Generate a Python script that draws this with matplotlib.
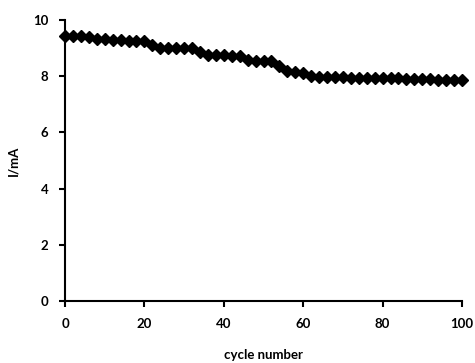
import numpy as np
import matplotlib.pyplot as plt

plt.rcParams['font.family'] = ['Lato', 'DejaVu Sans']

cycles = np.arange(0, 101, 2)
current = [9.43, 9.42, 9.42, 9.41, 9.33, 9.31, 9.3, 9.28, 9.27, 9.26,
           9.25, 9.12, 9.02, 9.02, 9.02, 9.01, 9.01, 8.85, 8.77, 8.75,
           8.74, 8.73, 8.72, 8.56, 8.54, 8.54, 8.53, 8.35, 8.17, 8.15,
           8.12, 7.99, 7.98, 7.97, 7.96, 7.96, 7.95, 7.95, 7.94, 7.93,
           7.93, 7.92, 7.92, 7.91, 7.9, 7.9, 7.89, 7.88, 7.87, 7.86, 7.85]

fig = plt.figure(figsize=(4.75, 3.63), dpi=100)
ax = fig.add_axes([65 / 475, 1 - 301 / 363, (462 - 65) / 475, (301 - 20) / 363])

ax.plot(cycles, current, color='black', marker='D', markersize=6.5, linewidth=1.5,
        clip_on=False)

ax.set_xlim(0, 100)
ax.set_ylim(0, 10)
ax.set_xticks(range(0, 101, 20))
ax.set_yticks(range(0, 11, 2))
for s in ['top', 'right']:
    ax.spines[s].set_visible(False)
for s in ['left', 'bottom']:
    ax.spines[s].set_linewidth(1.5)
ax.tick_params(direction='out', length=4, width=1.5, labelsize=9.5, pad=8)
for lbl in ax.get_xticklabels() + ax.get_yticklabels():
    lbl.set_fontweight('bold')

ax.set_xlabel('cycle number', fontsize=9.5, fontweight='bold', labelpad=14)
ax.set_ylabel('I/mA', fontsize=9.5, fontweight='bold', labelpad=10)

fig.savefig('out.png', dpi=100)
